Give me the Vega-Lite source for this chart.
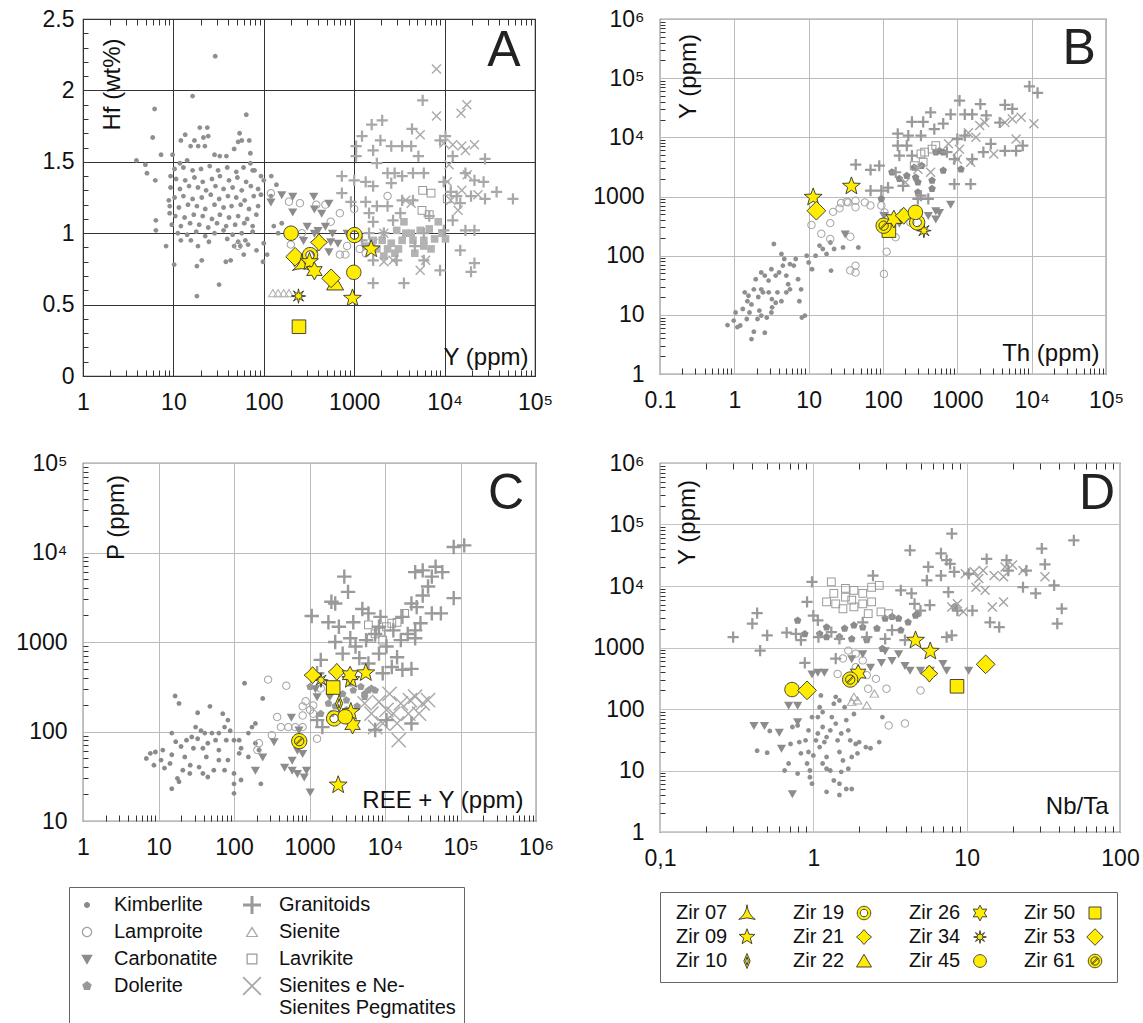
{
"$schema": "https://vega.github.io/schema/vega-lite/v6.json",
"padding": {"left": 15, "top": 7, "right": 5, "bottom": 5},
"background": "white",
"columns": 2,
"spacing": {"row": 87, "column": 124},
"bounds": "flush",
"align": "each",
"config": {
  "font": "Liberation Sans",
  "view": {"stroke": "#3a3a3a", "strokeWidth": 1.2},
  "axis": {"labelFont": "Liberation Sans", "titleFont": "Liberation Sans", "labelColor": "#111111", "titleColor": "#111111", "labelFontSize": 23, "titleFontSize": 24, "titleFontWeight": "normal", "domain": false, "ticks": false, "grid": false, "labelFlush": false, "labelOverlap": false, "labelBound": false, "tickSize": 0},
  "legend": {"labelFont": "Liberation Sans", "labelColor": "#111111", "labelFontSize": 20, "titleFont": "Liberation Sans"}
},
"datasets": {
  "groups": [{"g":"K","group":"Kimberlite"},{"g":"L","group":"Lamproite"},{"g":"C","group":"Carbonatite"},{"g":"D","group":"Dolerite"},{"g":"G","group":"Granitoids"},{"g":"S","group":"Sienite"},{"g":"V","group":"Lavrikite"},{"g":"X","group":"Sienites e Ne-Sienites Pegmatites"}],
  "gA": [
{"g":"K","x":29,"y":2.24},{"g":"K","x":16.3,"y":1.96},{"g":"K","x":6.2,"y":1.87},{"g":"K","x":5.9,"y":1.67},{"g":"K","x":64,"y":1.83},{"g":"K","x":19.6,"y":1.74},{"g":"K","x":23.7,"y":1.74},{"g":"K","x":3.9,"y":1.51},{"g":"K","x":4.9,"y":1.48},{"g":"K","x":5.1,"y":1.42},{"g":"K","x":7.3,"y":1.55},{"g":"K","x":9.8,"y":1.55},{"g":"K","x":12.1,"y":1.65},{"g":"K","x":13.5,"y":1.69},{"g":"K","x":17.1,"y":1.65},{"g":"K","x":21.5,"y":1.67},{"g":"K","x":24.3,"y":1.68},{"g":"K","x":22.3,"y":1.61},{"g":"K","x":18.8,"y":1.61},{"g":"K","x":15.5,"y":1.61},{"g":"K","x":32.6,"y":1.54},{"g":"K","x":54,"y":1.70},{"g":"K","x":57,"y":1.65},{"g":"K","x":69,"y":1.65},{"g":"K","x":52,"y":1.64},{"g":"K","x":6.3,"y":1.37},{"g":"K","x":9.3,"y":1.40},{"g":"K","x":11.8,"y":1.49},{"g":"K","x":14.2,"y":1.51},{"g":"K","x":28.5,"y":1.55},{"g":"K","x":38.6,"y":1.54},{"g":"K","x":47,"y":1.59},{"g":"K","x":71,"y":1.56},{"g":"K","x":71,"y":1.49},{"g":"K","x":93,"y":1.40},{"g":"K","x":121,"y":1.40},{"g":"K","x":79,"y":1.44},{"g":"K","x":93,"y":1.27},{"g":"K","x":120,"y":1.26},{"g":"K","x":100,"y":1.37},{"g":"K","x":8.9,"y":1.23},{"g":"K","x":9.1,"y":1.14},{"g":"K","x":6.4,"y":1.09},{"g":"K","x":6.4,"y":1.02},{"g":"K","x":8.3,"y":0.91},{"g":"K","x":10.2,"y":0.78},{"g":"K","x":12.1,"y":0.95},{"g":"K","x":18.2,"y":0.77},{"g":"K","x":20.6,"y":0.81},{"g":"K","x":18.7,"y":0.91},{"g":"K","x":32,"y":0.64},{"g":"K","x":18.2,"y":0.56},{"g":"K","x":38,"y":0.80},{"g":"K","x":43,"y":0.81},{"g":"K","x":60,"y":0.85},{"g":"K","x":83,"y":0.88},{"g":"K","x":98,"y":0.80},{"g":"K","x":109,"y":0.85},{"g":"K","x":55,"y":0.91},{"g":"K","x":47,"y":0.91},{"g":"K","x":52,"y":0.94},{"g":"K","x":67,"y":0.92},{"g":"K","x":100,"y":0.93},{"g":"K","x":158,"y":1.07},{"g":"K","x":144,"y":1.0},{"g":"K","x":138,"y":1.34},{"g":"K","x":129,"y":1.05},
{"g":"K","x":10.3,"y":1.45},{"g":"K","x":12.9,"y":1.46},{"g":"K","x":16.3,"y":1.44},{"g":"K","x":20.2,"y":1.45},{"g":"K","x":25.2,"y":1.47},{"g":"K","x":31.2,"y":1.44},{"g":"K","x":39.4,"y":1.46},{"g":"K","x":49.6,"y":1.43},{"g":"K","x":59.7,"y":1.46},{"g":"K","x":75.3,"y":1.44},
{"g":"K","x":10.7,"y":1.38},{"g":"K","x":13.5,"y":1.37},{"g":"K","x":17.1,"y":1.39},{"g":"K","x":21.1,"y":1.36},{"g":"K","x":26.7,"y":1.38},{"g":"K","x":32.7,"y":1.40},{"g":"K","x":41.2,"y":1.37},{"g":"K","x":51,"y":1.39},{"g":"K","x":63.7,"y":1.36},
{"g":"K","x":9.3,"y":1.32},{"g":"K","x":11.8,"y":1.31},{"g":"K","x":14.9,"y":1.33},{"g":"K","x":18.7,"y":1.32},{"g":"K","x":23,"y":1.30},{"g":"K","x":29.2,"y":1.33},{"g":"K","x":35.9,"y":1.31},{"g":"K","x":45.2,"y":1.32},{"g":"K","x":57,"y":1.30},{"g":"K","x":71.9,"y":1.33},{"g":"K","x":86.5,"y":1.31},
{"g":"K","x":10.3,"y":1.25},{"g":"K","x":12.9,"y":1.26},{"g":"K","x":16.3,"y":1.24},{"g":"K","x":20.6,"y":1.25},{"g":"K","x":25.9,"y":1.27},{"g":"K","x":32.1,"y":1.24},{"g":"K","x":40.1,"y":1.26},{"g":"K","x":49.6,"y":1.25},{"g":"K","x":61.4,"y":1.23},{"g":"K","x":77.4,"y":1.26},
{"g":"K","x":9.1,"y":1.19},{"g":"K","x":11.5,"y":1.18},{"g":"K","x":14.5,"y":1.20},{"g":"K","x":18.2,"y":1.19},{"g":"K","x":22.5,"y":1.17},{"g":"K","x":28.5,"y":1.20},{"g":"K","x":35.9,"y":1.18},{"g":"K","x":44,"y":1.19},{"g":"K","x":55.5,"y":1.20},{"g":"K","x":68.6,"y":1.17},{"g":"K","x":86.5,"y":1.19},
{"g":"K","x":10.5,"y":1.12},{"g":"K","x":13.3,"y":1.11},{"g":"K","x":16.8,"y":1.13},{"g":"K","x":21.1,"y":1.12},{"g":"K","x":26.7,"y":1.10},{"g":"K","x":32.7,"y":1.13},{"g":"K","x":41.2,"y":1.11},{"g":"K","x":52,"y":1.12},{"g":"K","x":65.5,"y":1.10},{"g":"K","x":82.6,"y":1.13},
{"g":"K","x":9.6,"y":1.06},{"g":"K","x":12.1,"y":1.05},{"g":"K","x":15.3,"y":1.07},{"g":"K","x":19.3,"y":1.06},{"g":"K","x":24.3,"y":1.04},{"g":"K","x":30.4,"y":1.07},{"g":"K","x":38.3,"y":1.05},{"g":"K","x":48.2,"y":1.06},{"g":"K","x":60.8,"y":1.07},{"g":"K","x":75.3,"y":1.05},
{"g":"K","x":11.2,"y":1.0},{"g":"K","x":14.2,"y":0.99},{"g":"K","x":17.9,"y":1.01},{"g":"K","x":22.5,"y":0.98},{"g":"K","x":28.5,"y":1.0},{"g":"K","x":35.9,"y":1.02},{"g":"K","x":45.2,"y":0.99},{"g":"K","x":57,"y":1.0},{"g":"K","x":75.3,"y":1.01},
{"g":"K","x":15.6,"y":0.95},{"g":"K","x":24.7,"y":0.94},{"g":"K","x":39.4,"y":0.96},{"g":"K","x":62.5,"y":0.95},
{"g":"L","x":120,"y":1.28},{"g":"L","x":190,"y":1.22},{"g":"L","x":251,"y":1.21},{"g":"L","x":381,"y":1.20},{"g":"L","x":480,"y":1.20},{"g":"L","x":694,"y":1.14},{"g":"L","x":550,"y":1.08},{"g":"L","x":1000,"y":1.17},{"g":"L","x":52,"y":0.91},{"g":"L","x":199,"y":0.92},{"g":"L","x":264,"y":1.0},{"g":"L","x":694,"y":0.85},{"g":"L","x":800,"y":0.85},{"g":"L","x":835,"y":0.91},{"g":"L","x":2340,"y":1.26},{"g":"L","x":1150,"y":0.89},{"g":"L","x":1340,"y":0.86},
{"g":"C","x":120,"y":1.22},{"g":"C","x":158,"y":1.27},{"g":"C","x":209,"y":1.26},{"g":"C","x":357,"y":1.26},{"g":"C","x":209,"y":1.15},{"g":"C","x":363,"y":1.17},{"g":"C","x":437,"y":1.14},{"g":"C","x":525,"y":1.21},{"g":"C","x":302,"y":1.05},{"g":"C","x":398,"y":1.02},{"g":"C","x":480,"y":1.05},{"g":"C","x":275,"y":0.95},{"g":"C","x":363,"y":1.0},{"g":"C","x":550,"y":0.94},{"g":"C","x":660,"y":0.93},{"g":"C","x":575,"y":1.0},{"g":"C","x":363,"y":0.86},{"g":"C","x":525,"y":0.87},{"g":"C","x":240,"y":0.81},{"g":"C","x":219,"y":0.79},{"g":"C","x":835,"y":1.0},
{"g":"S","x":126,"y":0.58},{"g":"S","x":144,"y":0.58},{"g":"S","x":166,"y":0.58},{"g":"S","x":190,"y":0.58},
{"g":"D","x":3550,"y":1.08},{"g":"D","x":2950,"y":1.02},{"g":"D","x":4270,"y":1.0},{"g":"D","x":5370,"y":1.02},{"g":"D","x":6760,"y":1.03},{"g":"D","x":8510,"y":1.08},{"g":"D","x":10230,"y":0.96},{"g":"D","x":7760,"y":0.96},{"g":"D","x":5890,"y":0.95},{"g":"D","x":4470,"y":0.95},{"g":"D","x":3390,"y":0.95},{"g":"D","x":2570,"y":0.93},{"g":"D","x":2040,"y":0.95},{"g":"D","x":1780,"y":0.89},{"g":"D","x":2340,"y":0.89},{"g":"D","x":3090,"y":0.89},{"g":"D","x":4680,"y":0.86},{"g":"D","x":7080,"y":0.89},{"g":"D","x":2820,"y":0.86},{"g":"D","x":1340,"y":0.91},{"g":"D","x":5890,"y":0.91},{"g":"D","x":3720,"y":1.0},{"g":"D","x":1620,"y":0.95},{"g":"D","x":9330,"y":1.0},{"g":"D","x":2130,"y":0.84},
{"g":"V","x":5720,"y":1.30},{"g":"V","x":7080,"y":1.28},{"g":"V","x":10700,"y":1.24},{"g":"V","x":5620,"y":1.16},{"g":"V","x":6760,"y":1.13},
{"g":"X","x":8130,"y":2.15},{"g":"X","x":17600,"y":1.90},{"g":"X","x":15200,"y":1.84},{"g":"X","x":8130,"y":1.82},{"g":"X","x":5370,"y":1.69},{"g":"X","x":9800,"y":1.63},{"g":"X","x":12300,"y":1.62},{"g":"X","x":15500,"y":1.61},{"g":"X","x":21400,"y":1.62},{"g":"X","x":17000,"y":1.58},{"g":"X","x":11200,"y":1.48},{"g":"X","x":17800,"y":1.41},{"g":"X","x":15500,"y":1.30},{"g":"X","x":10700,"y":1.36},{"g":"X","x":14100,"y":1.16},{"g":"X","x":11700,"y":1.23},{"g":"X","x":3720,"y":1.23},{"g":"X","x":4270,"y":1.21},{"g":"X","x":2130,"y":1.0},{"g":"X","x":2690,"y":0.81},{"g":"X","x":2130,"y":0.80},{"g":"X","x":5370,"y":0.74},{"g":"X","x":6170,"y":0.81},{"g":"X","x":1620,"y":0.93},{"g":"X","x":23400,"y":1.27},
{"g":"G","x":5720,"y":1.93},{"g":"G","x":1560,"y":1.76},{"g":"G","x":2040,"y":1.79},{"g":"G","x":4360,"y":1.73},{"g":"G","x":1220,"y":1.68},{"g":"G","x":1950,"y":1.65},{"g":"G","x":1050,"y":1.61},{"g":"G","x":1620,"y":1.58},{"g":"G","x":2570,"y":1.61},{"g":"G","x":3390,"y":1.61},{"g":"G","x":4270,"y":1.61},{"g":"G","x":5130,"y":1.54},{"g":"G","x":8910,"y":1.65},{"g":"G","x":10230,"y":1.68},{"g":"G","x":1050,"y":1.54},{"g":"G","x":1780,"y":1.49},{"g":"G","x":2340,"y":1.42},{"g":"G","x":2800,"y":1.42},{"g":"G","x":3390,"y":1.40},{"g":"G","x":4470,"y":1.42},{"g":"G","x":5890,"y":1.42},{"g":"G","x":730,"y":1.40},{"g":"G","x":1000,"y":1.37},{"g":"G","x":1340,"y":1.36},{"g":"G","x":1620,"y":1.33},{"g":"G","x":2570,"y":1.35},{"g":"G","x":12300,"y":1.54},{"g":"G","x":17000,"y":1.42},{"g":"G","x":21400,"y":1.37},{"g":"G","x":28000,"y":1.52},{"g":"G","x":27000,"y":1.36},{"g":"G","x":37600,"y":1.29},{"g":"G","x":57000,"y":1.24},{"g":"G","x":28000,"y":1.24},{"g":"G","x":19600,"y":1.26},{"g":"G","x":730,"y":1.28},{"g":"G","x":920,"y":1.22},{"g":"G","x":1340,"y":1.22},{"g":"G","x":1780,"y":1.19},{"g":"G","x":2340,"y":1.19},{"g":"G","x":1460,"y":1.14},{"g":"G","x":3390,"y":1.23},{"g":"G","x":4470,"y":1.23},{"g":"G","x":13600,"y":1.26},{"g":"G","x":9800,"y":1.36},{"g":"G","x":11700,"y":1.29},{"g":"G","x":14900,"y":1.21},{"g":"G","x":12300,"y":1.09},{"g":"G","x":17000,"y":1.02},{"g":"G","x":21400,"y":1.02},{"g":"G","x":9800,"y":1.02},{"g":"G","x":1620,"y":1.08},{"g":"G","x":1460,"y":1.0},{"g":"G","x":2130,"y":1.0},{"g":"G","x":1220,"y":0.95},{"g":"G","x":14900,"y":0.88},{"g":"G","x":21400,"y":0.79},{"g":"G","x":19600,"y":0.73},{"g":"G","x":8910,"y":0.74},{"g":"G","x":2950,"y":0.81},{"g":"G","x":1620,"y":0.81},{"g":"G","x":1620,"y":0.65},{"g":"G","x":3550,"y":0.65},{"g":"G","x":5890,"y":0.81},{"g":"G","x":4680,"y":0.91},{"g":"G","x":5890,"y":1.0},{"g":"G","x":6760,"y":1.12},{"g":"G","x":2690,"y":1.09},{"g":"G","x":3240,"y":1.14}
  ],
  "gB": [
{"g":"K","x":0.81,"y":6.7},{"g":"K","x":1.04,"y":11},{"g":"K","x":1.1,"y":6.2},{"g":"K","x":0.98,"y":8},{"g":"K","x":1.3,"y":12.6},{"g":"K","x":1.5,"y":17},{"g":"K","x":1.55,"y":21},{"g":"K","x":1.7,"y":15},{"g":"K","x":1.83,"y":27},{"g":"K","x":1.7,"y":3.9},{"g":"K","x":1.83,"y":5.2},{"g":"K","x":2.05,"y":8.5},{"g":"K","x":2.17,"y":11.8},{"g":"K","x":1.94,"y":40},{"g":"K","x":2.43,"y":24},{"g":"K","x":2.57,"y":5},{"g":"K","x":2.73,"y":9},{"g":"K","x":2.89,"y":38},{"g":"K","x":3.15,"y":59},{"g":"K","x":3.22,"y":13.4},{"g":"K","x":3.15,"y":11},{"g":"K","x":3.6,"y":46},{"g":"K","x":3.8,"y":24},{"g":"K","x":4.0,"y":52},{"g":"K","x":4.3,"y":107},{"g":"K","x":4.5,"y":68},{"g":"K","x":5.0,"y":46},{"g":"K","x":5.6,"y":72},{"g":"K","x":5.6,"y":27},{"g":"K","x":6.3,"y":68},{"g":"K","x":7.2,"y":40},{"g":"K","x":6.7,"y":88},{"g":"K","x":7.5,"y":17},{"g":"K","x":7.9,"y":27},{"g":"K","x":8.1,"y":9},{"g":"K","x":8.9,"y":9.7},{"g":"K","x":10,"y":77},{"g":"K","x":9.4,"y":100},{"g":"K","x":11.1,"y":59},{"g":"K","x":12.4,"y":100},{"g":"K","x":14,"y":148},{"g":"K","x":15.5,"y":130},{"g":"K","x":17.4,"y":107},{"g":"K","x":19.6,"y":167},{"g":"K","x":22,"y":130},{"g":"K","x":20,"y":56},{"g":"K","x":29,"y":138},{"g":"K","x":46.6,"y":138},{"g":"K","x":3.4,"y":158},{"g":"K","x":2.3,"y":9.7},{"g":"K","x":1.47,"y":8.5},{"g":"K","x":1.2,"y":6.6},{"g":"K","x":4.3,"y":17},{"g":"K","x":5.0,"y":24},{"g":"K","x":5.3,"y":33},{"g":"K","x":2.3,"y":27},{"g":"K","x":2.57,"y":46},{"g":"K","x":2.3,"y":52},{"g":"K","x":2.9,"y":24},{"g":"K","x":3.6,"y":16},{"g":"K","x":1.6,"y":11},{"g":"K","x":1.38,"y":24},{"g":"K","x":3.2,"y":18.5},{"g":"K","x":2.1,"y":20},{"g":"K","x":4.7,"y":88},
{"g":"L","x":10.9,"y":330},{"g":"L","x":19.5,"y":355},{"g":"L","x":21.3,"y":550},{"g":"L","x":26,"y":630},{"g":"L","x":27.3,"y":776},{"g":"L","x":34,"y":795},{"g":"L","x":42.7,"y":660},{"g":"L","x":57,"y":795},{"g":"L","x":67.7,"y":705},{"g":"L","x":42.7,"y":851},{"g":"L","x":32.4,"y":813},{"g":"L","x":14.8,"y":234},{"g":"L","x":19.5,"y":191},{"g":"L","x":36.3,"y":209},{"g":"L","x":42.7,"y":68},{"g":"L","x":36.3,"y":56},{"g":"L","x":42.7,"y":52},{"g":"L","x":103,"y":49},{"g":"L","x":112,"y":117},{"g":"L","x":105,"y":537},{"g":"L","x":95,"y":705},{"g":"L","x":148,"y":204},{"g":"L","x":117,"y":245},{"g":"L","x":186,"y":537},{"g":"L","x":234,"y":363},
{"g":"C","x":31,"y":234},{"g":"C","x":103,"y":477},{"g":"C","x":166,"y":355},{"g":"C","x":295,"y":477},{"g":"C","x":407,"y":477},{"g":"C","x":513,"y":575},{"g":"C","x":575,"y":537},{"g":"C","x":813,"y":741},{"g":"C","x":513,"y":417},
{"g":"D","x":95,"y":912},{"g":"D","x":132,"y":2570},{"g":"D","x":209,"y":2240},{"g":"D","x":275,"y":2090},{"g":"D","x":295,"y":1740},{"g":"D","x":457,"y":1860},{"g":"D","x":457,"y":1350},{"g":"D","x":646,"y":2750},{"g":"D","x":1120,"y":2880},{"g":"D","x":263,"y":3090},{"g":"D","x":331,"y":3310},{"g":"D","x":575,"y":5890},{"g":"D","x":646,"y":5620},{"g":"D","x":513,"y":5620},{"g":"D","x":166,"y":1995},{"g":"D","x":295,"y":1175},
{"g":"V","x":263,"y":3310},{"g":"V","x":347,"y":3800},{"g":"V","x":457,"y":6310},{"g":"V","x":363,"y":5620},{"g":"V","x":513,"y":7240},{"g":"V","x":324,"y":5250},
{"g":"X","x":760,"y":7760},{"g":"X","x":1070,"y":6310},{"g":"X","x":1410,"y":12000},{"g":"X","x":2000,"y":15800},{"g":"X","x":2340,"y":17800},{"g":"X","x":1780,"y":10000},{"g":"X","x":1510,"y":3800},{"g":"X","x":3090,"y":5250},{"g":"X","x":4370,"y":17800},{"g":"X","x":5500,"y":20400},{"g":"X","x":7240,"y":21900},{"g":"X","x":10700,"y":17000},{"g":"X","x":6170,"y":9330},{"g":"X","x":1000,"y":4270},{"g":"X","x":437,"y":2570},{"g":"X","x":295,"y":2880},{"g":"X","x":200,"y":1740},
{"g":"G","x":43,"y":3470},{"g":"G","x":68,"y":2820},{"g":"G","x":89,"y":3310},{"g":"G","x":68,"y":1260},{"g":"G","x":95,"y":1260},{"g":"G","x":117,"y":1410},{"g":"G","x":158,"y":11500},{"g":"G","x":219,"y":10700},{"g":"G","x":245,"y":18200},{"g":"G","x":347,"y":18200},{"g":"G","x":437,"y":26300},{"g":"G","x":324,"y":10700},{"g":"G","x":490,"y":13800},{"g":"G","x":646,"y":17000},{"g":"G","x":813,"y":24500},{"g":"G","x":1070,"y":41700},{"g":"G","x":1260,"y":24500},{"g":"G","x":1585,"y":24500},{"g":"G","x":2040,"y":36300},{"g":"G","x":2450,"y":23400},{"g":"G","x":4370,"y":35500},{"g":"G","x":5500,"y":30200},{"g":"G","x":9330,"y":72400},{"g":"G","x":12000,"y":56200},{"g":"G","x":3720,"y":17800},{"g":"G","x":7590,"y":7240},{"g":"G","x":6170,"y":5890},{"g":"G","x":4370,"y":5890},{"g":"G","x":2820,"y":7760},{"g":"G","x":2240,"y":5620},{"g":"G","x":1585,"y":4270},{"g":"G","x":912,"y":4270},{"g":"G","x":724,"y":5620},{"g":"G","x":912,"y":1620},{"g":"G","x":1510,"y":1620},{"g":"G","x":1000,"y":9330},{"g":"G","x":1260,"y":10700},{"g":"G","x":209,"y":7240},{"g":"G","x":245,"y":4900},{"g":"G","x":166,"y":4900},{"g":"G","x":148,"y":2570},{"g":"G","x":186,"y":1510},{"g":"G","x":295,"y":912},{"g":"G","x":407,"y":912},{"g":"G","x":324,"y":1030},{"g":"G","x":158,"y":7240}
  ],
  "gC": [
{"g":"K","x":6.9,"y":50},{"g":"K","x":7.8,"y":57},{"g":"K","x":9.1,"y":59},{"g":"K","x":11.4,"y":62},{"g":"K","x":8.7,"y":42},{"g":"K","x":10.8,"y":48},{"g":"K","x":15,"y":55},{"g":"K","x":16.6,"y":250},{"g":"K","x":18.7,"y":206},{"g":"K","x":15,"y":96},{"g":"K","x":16.9,"y":77},{"g":"K","x":19.9,"y":68},{"g":"K","x":22.3,"y":52},{"g":"K","x":26.3,"y":42},{"g":"K","x":15,"y":23},{"g":"K","x":17.8,"y":30},{"g":"K","x":18.7,"y":27.5},{"g":"K","x":27.6,"y":87},{"g":"K","x":31,"y":112},{"g":"K","x":33,"y":162},{"g":"K","x":36.5,"y":102},{"g":"K","x":38.7,"y":65},{"g":"K","x":43,"y":52},{"g":"K","x":48,"y":191},{"g":"K","x":51,"y":96},{"g":"K","x":57,"y":80},{"g":"K","x":63,"y":62},{"g":"K","x":71,"y":158},{"g":"K","x":75,"y":112},{"g":"K","x":83,"y":134},{"g":"K","x":89,"y":102},{"g":"K","x":100,"y":80},{"g":"K","x":100,"y":34},{"g":"K","x":100,"y":26},{"g":"K","x":100,"y":20.4},{"g":"K","x":117,"y":80},{"g":"K","x":124,"y":28.8},{"g":"K","x":138,"y":347},{"g":"K","x":155,"y":96},{"g":"K","x":173,"y":112},{"g":"K","x":192,"y":74},{"g":"K","x":214,"y":62},{"g":"K","x":227,"y":26},{"g":"K","x":240,"y":234},{"g":"K","x":26,"y":34},{"g":"K","x":29,"y":65},{"g":"K","x":34.5,"y":40},{"g":"K","x":38.7,"y":34},{"g":"K","x":45,"y":31},{"g":"K","x":54,"y":37},{"g":"K","x":63,"y":48},{"g":"K","x":75,"y":37},{"g":"K","x":83,"y":48},{"g":"K","x":117,"y":57},{"g":"K","x":12,"y":39},{"g":"K","x":14.2,"y":44},{"g":"K","x":21,"y":37},{"g":"K","x":23.5,"y":80},{"g":"K","x":33,"y":83},{"g":"K","x":41,"y":96},{"g":"K","x":79,"y":80},{"g":"K","x":124,"y":65},{"g":"K","x":155,"y":52},{"g":"K","x":192,"y":123},{"g":"K","x":63,"y":96},{"g":"K","x":45,"y":74},
{"g":"L","x":283,"y":380},{"g":"L","x":493,"y":324},{"g":"L","x":373,"y":145},{"g":"L","x":317,"y":91},{"g":"L","x":214,"y":74},{"g":"L","x":204,"y":62},{"g":"L","x":418,"y":112},{"g":"L","x":524,"y":112},{"g":"L","x":648,"y":112},{"g":"L","x":811,"y":112},{"g":"L","x":890,"y":218},{"g":"L","x":811,"y":191},{"g":"L","x":1020,"y":174},{"g":"L","x":1120,"y":196},{"g":"L","x":1120,"y":158},{"g":"L","x":1260,"y":83},{"g":"L","x":811,"y":151},{"g":"L","x":1410,"y":302},{"g":"L","x":1860,"y":288},
{"g":"C","x":339,"y":77},{"g":"C","x":240,"y":52},{"g":"C","x":192,"y":37},{"g":"C","x":575,"y":145},{"g":"C","x":725,"y":104},{"g":"C","x":692,"y":62},{"g":"C","x":589,"y":48},{"g":"C","x":811,"y":57},{"g":"C","x":468,"y":40},{"g":"C","x":589,"y":37},{"g":"C","x":912,"y":37},{"g":"C","x":1020,"y":21.2},{"g":"C","x":692,"y":34},{"g":"C","x":851,"y":31},{"g":"C","x":1260,"y":245},{"g":"C","x":1200,"y":302},{"g":"C","x":1860,"y":245},
{"g":"D","x":1020,"y":316},{"g":"D","x":1410,"y":158},{"g":"D","x":1780,"y":206},{"g":"D","x":2190,"y":191},{"g":"D","x":3090,"y":224},{"g":"D","x":3800,"y":288},{"g":"D","x":4790,"y":316},{"g":"D","x":5370,"y":263},{"g":"D","x":6030,"y":288},{"g":"D","x":6610,"y":302},{"g":"D","x":7410,"y":288},{"g":"D","x":3470,"y":347},{"g":"D","x":2750,"y":263},{"g":"D","x":5370,"y":245},{"g":"D","x":4270,"y":191},{"g":"D","x":1950,"y":158},{"g":"D","x":3090,"y":174},{"g":"D","x":3470,"y":372},
{"g":"X","x":8320,"y":214},{"g":"X","x":10470,"y":174},{"g":"X","x":12900,"y":158},{"g":"X","x":16200,"y":206},{"g":"X","x":21400,"y":224},{"g":"X","x":25100,"y":245},{"g":"X","x":31600,"y":206},{"g":"X","x":37200,"y":224},{"g":"X","x":28200,"y":158},{"g":"X","x":20400,"y":158},{"g":"X","x":14450,"y":123},{"g":"X","x":15200,"y":80},{"g":"X","x":9330,"y":123},{"g":"X","x":7410,"y":112},{"g":"X","x":6610,"y":158},{"g":"X","x":5370,"y":206},{"g":"X","x":11500,"y":263},
{"g":"G","x":2890,"y":5370},{"g":"G","x":3240,"y":3630},{"g":"G","x":1950,"y":2820},{"g":"G","x":2190,"y":2690},{"g":"G","x":1070,"y":1950},{"g":"G","x":1780,"y":1660},{"g":"G","x":2450,"y":1480},{"g":"G","x":3800,"y":1660},{"g":"G","x":5010,"y":2340},{"g":"G","x":6030,"y":2090},{"g":"G","x":8710,"y":1910},{"g":"G","x":2190,"y":1000},{"g":"G","x":3470,"y":1100},{"g":"G","x":2750,"y":741},{"g":"G","x":4070,"y":891},{"g":"G","x":5620,"y":1050},{"g":"G","x":4570,"y":661},{"g":"G","x":6030,"y":575},{"g":"G","x":8320,"y":741},{"g":"G","x":10470,"y":891},{"g":"G","x":14450,"y":676},{"g":"G","x":12300,"y":525},{"g":"G","x":17000,"y":490},{"g":"G","x":22400,"y":501},{"g":"G","x":9330,"y":447},{"g":"G","x":16200,"y":1050},{"g":"G","x":20000,"y":1230},{"g":"G","x":25100,"y":1100},{"g":"G","x":17000,"y":1910},{"g":"G","x":22400,"y":2690},{"g":"G","x":31600,"y":3310},{"g":"G","x":37200,"y":4170},{"g":"G","x":41700,"y":5370},{"g":"G","x":25100,"y":6030},{"g":"G","x":31600,"y":6310},{"g":"G","x":46800,"y":6920},{"g":"G","x":57500,"y":6030},{"g":"G","x":41700,"y":2090},{"g":"G","x":55000,"y":2090},{"g":"G","x":81300,"y":3090},{"g":"G","x":81300,"y":11500},{"g":"G","x":112000,"y":12000},{"g":"G","x":26300,"y":2450},{"g":"G","x":29500,"y":1620},{"g":"G","x":25100,"y":1350},{"g":"G","x":1260,"y":447},{"g":"G","x":1410,"y":631},{"g":"G","x":1480,"y":112},{"g":"G","x":1260,"y":134},{"g":"G","x":7410,"y":104},{"g":"G","x":10470,"y":134},{"g":"G","x":22400,"y":123},{"g":"G","x":7410,"y":1230},{"g":"G","x":12900,"y":1350},{"g":"G","x":8320,"y":1480},
{"g":"V","x":6030,"y":1550},{"g":"V","x":7410,"y":1230},{"g":"V","x":8710,"y":1290},{"g":"V","x":10470,"y":1480},{"g":"V","x":12300,"y":1620},{"g":"V","x":14450,"y":1660},{"g":"V","x":18200,"y":2090},{"g":"V","x":9330,"y":1050},{"g":"V","x":6610,"y":1100}
  ],
  "gD": [
{"g":"K","x":0.43,"y":21},{"g":"K","x":0.50,"y":19.5},{"g":"K","x":0.52,"y":44},{"g":"K","x":0.65,"y":10},{"g":"K","x":0.69,"y":13},{"g":"K","x":0.71,"y":27},{"g":"K","x":0.73,"y":51},{"g":"K","x":0.79,"y":54},{"g":"K","x":0.81,"y":29},{"g":"K","x":0.83,"y":19},{"g":"K","x":0.91,"y":13},{"g":"K","x":0.93,"y":20},{"g":"K","x":0.95,"y":10},{"g":"K","x":0.95,"y":7.8},{"g":"K","x":0.98,"y":6.1},{"g":"K","x":1.0,"y":17.6},{"g":"K","x":1.04,"y":31},{"g":"K","x":1.07,"y":40},{"g":"K","x":0.98,"y":74},{"g":"K","x":1.07,"y":74},{"g":"K","x":1.1,"y":107},{"g":"K","x":1.12,"y":166},{"g":"K","x":1.15,"y":89},{"g":"K","x":1.15,"y":51},{"g":"K","x":1.18,"y":29},{"g":"K","x":1.22,"y":16.6},{"g":"K","x":1.22,"y":10.7},{"g":"K","x":1.29,"y":45},{"g":"K","x":1.32,"y":74},{"g":"K","x":1.36,"y":122},{"g":"K","x":1.40,"y":58},{"g":"K","x":1.44,"y":31},{"g":"K","x":1.48,"y":20},{"g":"K","x":1.52,"y":40},{"g":"K","x":1.56,"y":14.6},{"g":"K","x":1.60,"y":107},{"g":"K","x":1.64,"y":66},{"g":"K","x":1.69,"y":45},{"g":"K","x":1.36,"y":6.9},{"g":"K","x":1.48,"y":6.1},{"g":"K","x":1.22,"y":4.5},{"g":"K","x":1.48,"y":4.0},{"g":"K","x":1.64,"y":5.0},{"g":"K","x":1.78,"y":5.0},{"g":"K","x":1.78,"y":16.6},{"g":"K","x":1.89,"y":27},{"g":"K","x":1.94,"y":19},{"g":"K","x":1.99,"y":29},{"g":"K","x":2.2,"y":24},{"g":"K","x":2.36,"y":23},{"g":"K","x":1.74,"y":31},{"g":"K","x":1.48,"y":138},{"g":"K","x":1.40,"y":158},{"g":"K","x":1.22,"y":35},{"g":"K","x":1.1,"y":24},{"g":"K","x":1.29,"y":10},{"g":"K","x":1.15,"y":13},{"g":"K","x":1.52,"y":9.5},{"g":"K","x":1.69,"y":10.7},{"g":"K","x":2.69,"y":29},{"g":"K","x":2.82,"y":74},{"g":"K","x":0.93,"y":45},{"g":"K","x":0.89,"y":31},{"g":"K","x":0.79,"y":8.9},{"g":"K","x":1.84,"y":83},
{"g":"L","x":1.44,"y":372},{"g":"L","x":1.56,"y":661},{"g":"L","x":1.69,"y":891},{"g":"L","x":1.89,"y":794},{"g":"L","x":2.23,"y":355},{"g":"L","x":2.56,"y":309},{"g":"L","x":3.0,"y":214},{"g":"L","x":3.1,"y":54},{"g":"L","x":3.96,"y":58},{"g":"L","x":5.0,"y":200},{"g":"L","x":2.28,"y":214},{"g":"L","x":1.89,"y":479},{"g":"L","x":2.1,"y":617},
{"g":"C","x":0.41,"y":54},{"g":"C","x":0.48,"y":54},{"g":"C","x":0.60,"y":42},{"g":"C","x":0.62,"y":23},{"g":"C","x":0.69,"y":115},{"g":"C","x":0.79,"y":115},{"g":"C","x":0.79,"y":62},{"g":"C","x":0.73,"y":4.2},{"g":"C","x":0.98,"y":372},{"g":"C","x":1.07,"y":398},{"g":"C","x":1.18,"y":398},{"g":"C","x":1.78,"y":661},{"g":"C","x":2.1,"y":794},{"g":"C","x":2.36,"y":479},{"g":"C","x":2.78,"y":575},{"g":"C","x":3.26,"y":617},{"g":"C","x":3.96,"y":513},{"g":"C","x":4.27,"y":427},{"g":"C","x":5.0,"y":427},{"g":"C","x":7.0,"y":550},{"g":"C","x":7.4,"y":427},{"g":"C","x":10.3,"y":427},{"g":"C","x":13.2,"y":457},{"g":"C","x":5.8,"y":427},{"g":"C","x":3.6,"y":794},{"g":"C","x":2.94,"y":891},
{"g":"D","x":0.79,"y":2750},{"g":"D","x":1.1,"y":1660},{"g":"D","x":1.22,"y":1480},{"g":"D","x":1.6,"y":2040},{"g":"D","x":1.84,"y":2290},{"g":"D","x":2.1,"y":2140},{"g":"D","x":2.6,"y":2040},{"g":"D","x":2.94,"y":2950},{"g":"D","x":3.26,"y":3160},{"g":"D","x":3.6,"y":2950},{"g":"D","x":4.15,"y":2570},{"g":"D","x":4.64,"y":3310},{"g":"D","x":4.8,"y":3550},{"g":"D","x":2.82,"y":955},{"g":"D","x":3.72,"y":1910},{"g":"D","x":2.23,"y":1320},{"g":"D","x":1.78,"y":1380},{"g":"D","x":1.48,"y":1480},{"g":"D","x":1.22,"y":2140},{"g":"D","x":0.88,"y":1660},{"g":"D","x":8.3,"y":4570},
{"g":"S","x":1.84,"y":158},{"g":"S","x":1.94,"y":138},{"g":"S","x":2.23,"y":115},{"g":"S","x":2.5,"y":178},{"g":"S","x":1.78,"y":131},
{"g":"V","x":1.31,"y":11700},{"g":"V","x":1.62,"y":9120},{"g":"V","x":1.84,"y":8510},{"g":"V","x":1.36,"y":7590},{"g":"V","x":1.22,"y":5500},{"g":"V","x":1.40,"y":5130},{"g":"V","x":1.62,"y":6610},{"g":"V","x":1.78,"y":5890},{"g":"V","x":1.84,"y":4570},{"g":"V","x":2.1,"y":7590},{"g":"V","x":2.4,"y":9550},{"g":"V","x":2.69,"y":10200},{"g":"V","x":2.1,"y":5130},{"g":"V","x":2.4,"y":5500},{"g":"V","x":2.76,"y":3800},{"g":"V","x":2.28,"y":3550},{"g":"V","x":3.09,"y":3550},{"g":"V","x":1.56,"y":4270},
{"g":"X","x":8.0,"y":4570},{"g":"X","x":9.5,"y":3800},{"g":"X","x":9.8,"y":15800},{"g":"X","x":11.2,"y":17000},{"g":"X","x":12.0,"y":13200},{"g":"X","x":11.5,"y":9550},{"g":"X","x":12.8,"y":17800},{"g":"X","x":13.2,"y":8510},{"g":"X","x":15.1,"y":14800},{"g":"X","x":17.8,"y":20400},{"g":"X","x":17.4,"y":14100},{"g":"X","x":19.9,"y":21900},{"g":"X","x":23.3,"y":17800},{"g":"X","x":32.4,"y":14100},{"g":"X","x":17.4,"y":5500},{"g":"X","x":14.7,"y":4570},{"g":"X","x":8.7,"y":5130},
{"g":"G","x":0.30,"y":1480},{"g":"G","x":0.40,"y":2450},{"g":"G","x":0.43,"y":3630},{"g":"G","x":0.45,"y":891},{"g":"G","x":0.50,"y":1580},{"g":"G","x":0.67,"y":1740},{"g":"G","x":0.77,"y":1660},{"g":"G","x":0.83,"y":1320},{"g":"G","x":0.88,"y":562},{"g":"G","x":0.91,"y":5500},{"g":"G","x":0.98,"y":11700},{"g":"G","x":1.0,"y":3310},{"g":"G","x":1.07,"y":2750},{"g":"G","x":1.08,"y":1480},{"g":"G","x":1.31,"y":1780},{"g":"G","x":1.40,"y":661},{"g":"G","x":1.48,"y":1380},{"g":"G","x":2.1,"y":2570},{"g":"G","x":2.23,"y":1480},{"g":"G","x":2.45,"y":14800},{"g":"G","x":2.94,"y":1380},{"g":"G","x":3.26,"y":1910},{"g":"G","x":3.72,"y":8510},{"g":"G","x":3.96,"y":1320},{"g":"G","x":4.27,"y":38000},{"g":"G","x":4.37,"y":7590},{"g":"G","x":4.57,"y":5130},{"g":"G","x":5.0,"y":3980},{"g":"G","x":5.62,"y":20400},{"g":"G","x":5.75,"y":4900},{"g":"G","x":5.5,"y":12300},{"g":"G","x":6.8,"y":33900},{"g":"G","x":7.4,"y":26300},{"g":"G","x":7.8,"y":22900},{"g":"G","x":8.0,"y":70800},{"g":"G","x":6.8,"y":14800},{"g":"G","x":8.3,"y":17000},{"g":"G","x":7.6,"y":7940},{"g":"G","x":8.0,"y":1580},{"g":"G","x":7.4,"y":1480},{"g":"G","x":10.3,"y":15800},{"g":"G","x":10.9,"y":3980},{"g":"G","x":13.5,"y":27500},{"g":"G","x":14.2,"y":2570},{"g":"G","x":16.3,"y":2140},{"g":"G","x":18.7,"y":17800},{"g":"G","x":18.2,"y":26300},{"g":"G","x":23.3,"y":9550},{"g":"G","x":28.2,"y":7590},{"g":"G","x":30.9,"y":40700},{"g":"G","x":32.4,"y":22400},{"g":"G","x":37.2,"y":10200},{"g":"G","x":41.7,"y":4270},{"g":"G","x":39,"y":2450},{"g":"G","x":50,"y":55000},{"g":"G","x":24.5,"y":17800},{"g":"G","x":8.7,"y":3980}
  ],
  "sA": [
{"sample":"Zir 45","x":200,"y":1.0},{"sample":"Zir 45","x":990,"y":0.726},{"sample":"Zir 19","x":1007,"y":0.987},{"sample":"Zir 21","x":408,"y":0.936},{"sample":"Zir 53","x":222,"y":0.835},{"sample":"Zir 07","x":263,"y":0.79},{"sample":"Zir 19","x":325,"y":0.847},{"sample":"Zir 09","x":320,"y":0.80},{"sample":"Zir 26","x":363,"y":0.735},{"sample":"Zir 22","x":615,"y":0.65},{"sample":"Zir 53","x":555,"y":0.684},{"sample":"Zir 34","x":242,"y":0.56},{"sample":"Zir 50","x":245,"y":0.345},{"sample":"Zir 09","x":957,"y":0.544},{"sample":"Zir 09","x":1540,"y":0.889}
  ],
  "sB": [
{"sample":"Zir 09","x":11.5,"y":970},{"sample":"Zir 53","x":12.7,"y":575},{"sample":"Zir 09","x":37.6,"y":1490},{"sample":"Zir 50","x":120,"y":265},{"sample":"Zir 61","x":102,"y":321},{"sample":"Zir 34","x":355,"y":265},{"sample":"Zir 19","x":288,"y":365},{"sample":"Zir 26","x":140,"y":415},{"sample":"Zir 21","x":190,"y":473},{"sample":"Zir 45","x":273,"y":540}
  ],
  "sC": [
{"sample":"Zir 61","x":731,"y":78},{"sample":"Zir 09","x":2400,"y":25.2},{"sample":"Zir 10","x":2470,"y":206},{"sample":"Zir 19","x":2120,"y":140},{"sample":"Zir 26","x":3720,"y":118},{"sample":"Zir 09","x":3530,"y":166},{"sample":"Zir 45","x":2970,"y":146},{"sample":"Zir 34","x":1420,"y":375},{"sample":"Zir 21","x":1100,"y":426},{"sample":"Zir 21","x":2300,"y":464},{"sample":"Zir 09","x":3530,"y":380},{"sample":"Zir 26","x":3450,"y":426},{"sample":"Zir 09","x":5570,"y":452},{"sample":"Zir 50","x":2060,"y":310}
  ],
  "sD": [
{"sample":"Zir 45","x":0.726,"y":207},{"sample":"Zir 53","x":0.91,"y":201},{"sample":"Zir 26","x":1.96,"y":377},{"sample":"Zir 61","x":1.74,"y":301},{"sample":"Zir 21","x":5.71,"y":377},{"sample":"Zir 50","x":8.65,"y":234},{"sample":"Zir 09","x":5.79,"y":867},{"sample":"Zir 09","x":4.64,"y":1310},{"sample":"Zir 53","x":13.3,"y":533}
  ]
},
"concat": [
{
  "width": 452, "height": 357,
  "resolve": {"scale": {"shape": "independent", "color": "independent"}, "axis": {"x": "independent", "y": "independent"}},
  "layer": [
    {
      "data": {"name": "gA"},
      "transform": [{"lookup": "g", "from": {"data": {"name": "groups"}, "key": "g", "fields": ["group"]}}],
      "mark": {"type": "point", "filled": true, "size": 64, "strokeWidth": 0, "opacity": 1},
      "encoding": {
        "x": {"field": "x", "type": "quantitative", "scale": {"type": "log", "domain": [1, 100000], "nice": false},
              "axis": {"orient": "bottom", "values": [1,10,100,1000,10000,100000], "labelExpr": "datum.value >= 10000 ? '10' + ['','','','','⁴','⁵','⁶'][round(log(datum.value)/LN10)] : format(datum.value, '')", "grid": true, "gridColor": "#333333", "labelPadding": 15, "title": "Y (ppm)", "titleX": 445, "titleY": -19, "titleAlign": "right", "titleBaseline": "middle", "titleAngle": 0}},
        "y": {"field": "y", "type": "quantitative", "scale": {"type": "linear", "domain": [0, 2.5], "nice": false, "zero": false},
              "axis": {"orient": "left", "values": [0,0.5,1,1.5,2,2.5], "labelExpr": "format(datum.value, '')", "grid": true, "gridColor": "#333333", "labelPadding": 9, "title": "Hf (wt%)", "titleX": 29, "titleY": 65, "titleAngle": 270, "titleAlign": "center", "titleBaseline": "middle"}},
        "shape": {"field": "group", "type": "nominal", "legend": null, "scale": {"domain": ["Kimberlite","Granitoids","Lamproite","Sienite","Carbonatite","Lavrikite","Dolerite","Sienites e Ne-Sienites Pegmatites"], "range": ["M-0.6,0A0.6,0.6 0 1,0 0.6,0A0.6,0.6 0 1,0 -0.6,0Z","M-0.28,-1.4H0.28V-0.28H1.4V0.28H0.28V1.4H-0.28V0.28H-1.4V-0.28H-0.28Z","M-1.05,0A1.05,1.05 0 1,0 1.05,0A1.05,1.05 0 1,0 -1.05,0ZM-0.8,0A0.8,0.8 0 1,1 0.8,0A0.8,0.8 0 1,1 -0.8,0Z","M0,-1.15L1.3,1L-1.3,1ZM0,-0.62L-0.88,0.78L0.88,0.78Z","M-1.15,-0.85L1.15,-0.85L0,1.15Z","M-1.1,-1.1H1.1V1.1H-1.1ZM-0.85,-0.85V0.85H0.85V-0.85Z","M-0.95,-0.95H0.95V0.95H-0.95Z","M-1.25,-1L-1,-1.25L1.25,1L1,1.25ZM1.25,-1L-1,1.25L-1.25,1L1,-1.25Z"]}},
        "color": {"field": "group", "type": "nominal", "legend": null, "scale": {"domain": ["Kimberlite","Granitoids","Lamproite","Sienite","Carbonatite","Lavrikite","Dolerite","Sienites e Ne-Sienites Pegmatites"], "range": ["#8f8f8f","#a8a8a8","#a3a3a3","#b3b3b3","#8c8c8c","#999999","#b3b3b3","#aaaaaa"]}}
      }
    },
    {
      "data": {"name": "sA"},
      "mark": {"type": "point", "filled": true, "size": 289, "fill": "#ffec00", "stroke": "#333333", "strokeWidth": 0.9, "opacity": 1},
      "encoding": {
        "x": {"field": "x", "type": "quantitative", "scale": {"type": "log", "domain": [1, 100000], "nice": false},
              "axis": {"orient": "bottom", "values": [2,3,4,5,6,7,8,9,20,30,40,50,60,70,80,90,200,300,400,500,600,700,800,900,2000,3000,4000,5000,6000,7000,8000,9000,20000,30000,40000,50000,60000,70000,80000,90000], "labels": false, "ticks": true, "tickSize": -6, "tickColor": "#333333", "title": null}},
        "y": {"field": "y", "type": "quantitative", "scale": {"type": "linear", "domain": [0, 2.5], "nice": false, "zero": false},
              "axis": {"orient": "left", "values": [0.1,0.2,0.3,0.4,0.6,0.7,0.8,0.9,1.1,1.2,1.3,1.4,1.6,1.7,1.8,1.9,2.1,2.2,2.3,2.4], "labels": false, "ticks": true, "tickSize": -5, "tickColor": "#333333", "title": null}},
        "shape": {"field": "sample", "type": "nominal", "legend": null, "scale": {"domain": ["Zir 07","Zir 09","Zir 10","Zir 19","Zir 21","Zir 22","Zir 26","Zir 34","Zir 45","Zir 50","Zir 53","Zir 61"], "range": ["M0,-1.1Q0.15,0.25 1.1,0.85Q0,0.45 -1.1,0.85Q-0.15,0.25 0,-1.1Z","M0,-1.1L0.27,-0.37L1.05,-0.34L0.44,0.14L0.65,0.89L0,0.46L-0.65,0.89L-0.44,0.14L-1.05,-0.34L-0.27,-0.37Z","M0,-1L0.42,0L0,1L-0.42,0ZM0,-0.55L-0.17,0L0,0.55L0.17,0Z","M-0.9,0A0.9,0.9 0 1,0 0.9,0A0.9,0.9 0 1,0 -0.9,0ZM-0.5,0A0.5,0.5 0 1,1 0.5,0A0.5,0.5 0 1,1 -0.5,0Z","M0,-1Q0.42,-0.42 1,0Q0.42,0.42 0,1Q-0.42,0.42 -1,0Q-0.42,-0.42 0,-1Z","M0,-0.9L1,0.8L-1,0.8Z","M0,-1.05L0.29,-0.5L0.91,-0.525L0.58,0L0.91,0.525L0.29,0.5L0,1.05L-0.29,0.5L-0.91,0.525L-0.58,0L-0.91,-0.525L-0.29,-0.5Z","M0,-0.85L0.115,-0.28L0.6,-0.6L0.28,-0.115L0.85,0L0.28,0.115L0.6,0.6L0.115,0.28L0,0.85L-0.115,0.28L-0.6,0.6L-0.28,0.115L-0.85,0L-0.28,-0.115L-0.6,-0.6L-0.115,-0.28Z","M-0.85,0A0.85,0.85 0 1,0 0.85,0A0.85,0.85 0 1,0 -0.85,0Z","M-0.8,-0.8H0.8V0.8H-0.8Z","M0,-1.1L1.1,0L0,1.1L-1.1,0Z","M-0.9,0A0.9,0.9 0 1,0 0.9,0A0.9,0.9 0 1,0 -0.9,0ZM-0.55,0A0.55,0.55 0 1,0 0.55,0A0.55,0.55 0 1,0 -0.55,0ZM-0.32,0.42L0.42,-0.32M-0.42,0.32L0.32,-0.42"]}}
      }
    },
    {
      "data": {"values": [{}]},
      "mark": {"type": "text", "text": "A", "fontSize": 50, "font": "Liberation Sans", "color": "#222222", "align": "center", "baseline": "middle"},
      "encoding": {
        "x": {"datum": 45400, "type": "quantitative", "scale": {"type": "log", "domain": [1, 100000], "nice": false},
              "axis": {"orient": "top", "values": [2,3,4,5,6,7,8,9,20,30,40,50,60,70,80,90,200,300,400,500,600,700,800,900,2000,3000,4000,5000,6000,7000,8000,9000,20000,30000,40000,50000,60000,70000,80000,90000], "labels": false, "ticks": true, "tickSize": -6, "tickColor": "#333333", "title": null}},
        "y": {"datum": 2.276, "type": "quantitative", "scale": {"type": "linear", "domain": [0, 2.5], "nice": false, "zero": false}, "axis": null}
      }
    }
  ]
},
{
  "width": 446, "height": 355,
  "resolve": {"scale": {"shape": "independent", "color": "independent"}, "axis": {"x": "independent", "y": "independent"}},
  "layer": [
    {
      "data": {"name": "gB"},
      "transform": [{"lookup": "g", "from": {"data": {"name": "groups"}, "key": "g", "fields": ["group"]}}],
      "mark": {"type": "point", "filled": true, "size": 64, "strokeWidth": 0, "opacity": 1},
      "encoding": {
        "x": {"field": "x", "type": "quantitative", "scale": {"type": "log", "domain": [0.1, 100000], "nice": false},
              "axis": {"orient": "bottom", "values": [0.1,1,10,100,1000,10000,100000], "labelExpr": "datum.value >= 10000 ? '10' + ['','','','','⁴','⁵','⁶'][round(log(datum.value)/LN10)] : format(datum.value, '')", "grid": true, "gridColor": "#bbbbbb", "labelPadding": 15, "title": "Th (ppm)", "titleX": 439, "titleY": -21, "titleAlign": "right", "titleBaseline": "middle", "titleAngle": 0}},
        "y": {"field": "y", "type": "quantitative", "scale": {"type": "log", "domain": [1, 1000000], "nice": false},
              "axis": {"orient": "left", "values": [1,10,100,1000,10000,100000,1000000], "labelExpr": "datum.value >= 10000 ? '10' + ['','','','','⁴','⁵','⁶'][round(log(datum.value)/LN10)] : format(datum.value, '')", "grid": true, "gridColor": "#bbbbbb", "labelPadding": 16, "title": "Y (ppm)", "titleX": 28, "titleY": 57, "titleAngle": 270, "titleAlign": "center", "titleBaseline": "middle"}},
        "shape": {"field": "group", "type": "nominal", "legend": null, "scale": {"domain": ["Kimberlite","Granitoids","Lamproite","Sienite","Carbonatite","Lavrikite","Dolerite","Sienites e Ne-Sienites Pegmatites"], "range": ["M-0.6,0A0.6,0.6 0 1,0 0.6,0A0.6,0.6 0 1,0 -0.6,0Z","M-0.28,-1.4H0.28V-0.28H1.4V0.28H0.28V1.4H-0.28V0.28H-1.4V-0.28H-0.28Z","M-1.05,0A1.05,1.05 0 1,0 1.05,0A1.05,1.05 0 1,0 -1.05,0ZM-0.8,0A0.8,0.8 0 1,1 0.8,0A0.8,0.8 0 1,1 -0.8,0Z","M0,-1.15L1.3,1L-1.3,1ZM0,-0.62L-0.88,0.78L0.88,0.78Z","M-1.15,-0.85L1.15,-0.85L0,1.15Z","M-1.1,-1.1H1.1V1.1H-1.1ZM-0.85,-0.85V0.85H0.85V-0.85Z","M0,-1L0.95,-0.31L0.59,0.81L-0.59,0.81L-0.95,-0.31Z","M-1.25,-1L-1,-1.25L1.25,1L1,1.25ZM1.25,-1L-1,1.25L-1.25,1L1,-1.25Z"]}},
        "color": {"field": "group", "type": "nominal", "legend": null, "scale": {"domain": ["Kimberlite","Granitoids","Lamproite","Sienite","Carbonatite","Lavrikite","Dolerite","Sienites e Ne-Sienites Pegmatites"], "range": ["#8f8f8f","#999999","#a6a6a6","#aaaaaa","#8c8c8c","#9a9a9a","#8a8a8a","#a6a6a6"]}}
      }
    },
    {
      "data": {"name": "sB"},
      "mark": {"type": "point", "filled": true, "size": 289, "fill": "#ffec00", "stroke": "#333333", "strokeWidth": 0.9, "opacity": 1},
      "encoding": {
        "x": {"field": "x", "type": "quantitative", "scale": {"type": "log", "domain": [0.1, 100000], "nice": false},
              "axis": {"orient": "bottom", "values": [0.2,0.3,0.4,0.5,0.6,0.7,0.8,0.9,2,3,4,5,6,7,8,9,20,30,40,50,60,70,80,90,200,300,400,500,600,700,800,900,2000,3000,4000,5000,6000,7000,8000,9000,20000,30000,40000,50000,60000,70000,80000,90000], "labels": false, "ticks": true, "tickSize": -6, "tickColor": "#333333", "title": null}},
        "y": {"field": "y", "type": "quantitative", "scale": {"type": "log", "domain": [1, 1000000], "nice": false},
              "axis": {"orient": "left", "values": [2,3,4,5,6,7,8,9,20,30,40,50,60,70,80,90,200,300,400,500,600,700,800,900,2000,3000,4000,5000,6000,7000,8000,9000,20000,30000,40000,50000,60000,70000,80000,90000,200000,300000,400000,500000,600000,700000,800000,900000], "labels": false, "ticks": true, "tickSize": -5, "tickColor": "#333333", "title": null}},
        "shape": {"field": "sample", "type": "nominal", "legend": null, "scale": {"domain": ["Zir 07","Zir 09","Zir 10","Zir 19","Zir 21","Zir 22","Zir 26","Zir 34","Zir 45","Zir 50","Zir 53","Zir 61"], "range": ["M0,-1.1Q0.15,0.25 1.1,0.85Q0,0.45 -1.1,0.85Q-0.15,0.25 0,-1.1Z","M0,-1.1L0.27,-0.37L1.05,-0.34L0.44,0.14L0.65,0.89L0,0.46L-0.65,0.89L-0.44,0.14L-1.05,-0.34L-0.27,-0.37Z","M0,-1L0.42,0L0,1L-0.42,0ZM0,-0.55L-0.17,0L0,0.55L0.17,0Z","M-0.9,0A0.9,0.9 0 1,0 0.9,0A0.9,0.9 0 1,0 -0.9,0ZM-0.5,0A0.5,0.5 0 1,1 0.5,0A0.5,0.5 0 1,1 -0.5,0Z","M0,-1Q0.42,-0.42 1,0Q0.42,0.42 0,1Q-0.42,0.42 -1,0Q-0.42,-0.42 0,-1Z","M0,-0.9L1,0.8L-1,0.8Z","M0,-1.05L0.29,-0.5L0.91,-0.525L0.58,0L0.91,0.525L0.29,0.5L0,1.05L-0.29,0.5L-0.91,0.525L-0.58,0L-0.91,-0.525L-0.29,-0.5Z","M0,-0.85L0.115,-0.28L0.6,-0.6L0.28,-0.115L0.85,0L0.28,0.115L0.6,0.6L0.115,0.28L0,0.85L-0.115,0.28L-0.6,0.6L-0.28,0.115L-0.85,0L-0.28,-0.115L-0.6,-0.6L-0.115,-0.28Z","M-0.85,0A0.85,0.85 0 1,0 0.85,0A0.85,0.85 0 1,0 -0.85,0Z","M-0.8,-0.8H0.8V0.8H-0.8Z","M0,-1.1L1.1,0L0,1.1L-1.1,0Z","M-0.9,0A0.9,0.9 0 1,0 0.9,0A0.9,0.9 0 1,0 -0.9,0ZM-0.55,0A0.55,0.55 0 1,0 0.55,0A0.55,0.55 0 1,0 -0.55,0ZM-0.32,0.42L0.42,-0.32M-0.42,0.32L0.32,-0.42"]}}
      }
    },
    {
      "data": {"values": [{}]},
      "mark": {"type": "text", "text": "B", "fontSize": 50, "font": "Liberation Sans", "color": "#222222", "align": "center", "baseline": "middle"},
      "encoding": {
        "x": {"datum": 43600, "type": "quantitative", "scale": {"type": "log", "domain": [0.1, 100000], "nice": false}, "axis": null},
        "y": {"datum": 316000, "type": "quantitative", "scale": {"type": "log", "domain": [1, 1000000], "nice": false}, "axis": null}
      }
    }
  ]
},
{
  "width": 453, "height": 358,
  "resolve": {"scale": {"shape": "independent", "color": "independent"}, "axis": {"x": "independent", "y": "independent"}},
  "layer": [
    {
      "data": {"name": "gC"},
      "transform": [{"lookup": "g", "from": {"data": {"name": "groups"}, "key": "g", "fields": ["group"]}}],
      "mark": {"type": "point", "filled": true, "size": 64, "strokeWidth": 0, "opacity": 1},
      "encoding": {
        "x": {"field": "x", "type": "quantitative", "scale": {"type": "log", "domain": [1, 1000000], "nice": false},
              "axis": {"orient": "bottom", "values": [1,10,100,1000,10000,100000,1000000], "labelExpr": "datum.value >= 10000 ? '10' + ['','','','','⁴','⁵','⁶'][round(log(datum.value)/LN10)] : format(datum.value, '')", "grid": true, "gridColor": "#bbbbbb", "labelPadding": 15, "title": "REE + Y (ppm)", "titleX": 440, "titleY": -21, "titleAlign": "right", "titleBaseline": "middle", "titleAngle": 0}},
        "y": {"field": "y", "type": "quantitative", "scale": {"type": "log", "domain": [10, 100000], "nice": false},
              "axis": {"orient": "left", "values": [10,100,1000,10000,100000], "labelExpr": "datum.value >= 10000 ? '10' + ['','','','','⁴','⁵','⁶'][round(log(datum.value)/LN10)] : format(datum.value, '')", "grid": true, "gridColor": "#bbbbbb", "labelPadding": 16, "title": "P (ppm)", "titleX": 33, "titleY": 54, "titleAngle": 270, "titleAlign": "center", "titleBaseline": "middle"}},
        "shape": {"field": "group", "type": "nominal",
          "legend": {"orient": "none", "legendX": -14, "legendY": 424, "columns": 2, "title": null, "labelFontSize": 20, "labelColor": "#111111", "labelLimit": 400, "symbolSize": 100, "symbolStrokeWidth": 0, "symbolOpacity": 1, "labelOffset": 17, "columnPadding": 24, "rowPadding": 7, "padding": 8, "strokeColor": "#666666", "labelExpr": "datum.label == 'Sienites e Ne-Sienites Pegmatites' ? ['Sienites e Ne-', 'Sienites Pegmatites'] : datum.label"},
          "scale": {"domain": ["Kimberlite","Lamproite","Carbonatite","Dolerite","Granitoids","Sienite","Lavrikite","Sienites e Ne-Sienites Pegmatites"], "range": ["M-0.6,0A0.6,0.6 0 1,0 0.6,0A0.6,0.6 0 1,0 -0.6,0Z","M-1.05,0A1.05,1.05 0 1,0 1.05,0A1.05,1.05 0 1,0 -1.05,0ZM-0.8,0A0.8,0.8 0 1,1 0.8,0A0.8,0.8 0 1,1 -0.8,0Z","M-1.15,-0.85L1.15,-0.85L0,1.15Z","M0,-1L0.95,-0.31L0.59,0.81L-0.59,0.81L-0.95,-0.31Z","M-0.3,-1.8H0.3V-0.3H1.8V0.3H0.3V1.8H-0.3V0.3H-1.8V-0.3H-0.3Z","M0,-1.15L1.3,1L-1.3,1ZM0,-0.62L-0.88,0.78L0.88,0.78Z","M-1.1,-1.1H1.1V1.1H-1.1ZM-0.85,-0.85V0.85H0.85V-0.85Z","M-1.9,-1.65L-1.65,-1.9L1.9,1.65L1.65,1.9ZM1.9,-1.65L-1.65,1.9L-1.9,1.65L1.65,-1.9Z"]}},
        "color": {"field": "group", "type": "nominal",
          "legend": {"orient": "none", "legendX": -14, "legendY": 424, "columns": 2, "title": null, "labelFontSize": 20, "labelColor": "#111111", "labelLimit": 400, "symbolSize": 100, "symbolStrokeWidth": 0, "symbolOpacity": 1, "labelOffset": 17, "columnPadding": 24, "rowPadding": 7, "padding": 8, "strokeColor": "#666666", "labelExpr": "datum.label == 'Sienites e Ne-Sienites Pegmatites' ? ['Sienites e Ne-', 'Sienites Pegmatites'] : datum.label"},
          "scale": {"domain": ["Kimberlite","Lamproite","Carbonatite","Dolerite","Granitoids","Sienite","Lavrikite","Sienites e Ne-Sienites Pegmatites"], "range": ["#8a8a8a","#a3a3a3","#8c8c8c","#999999","#9a9a9a","#aaaaaa","#999999","#a8a8a8"]}}
      }
    },
    {
      "data": {"name": "sC"},
      "mark": {"type": "point", "filled": true, "size": 289, "fill": "#ffec00", "stroke": "#333333", "strokeWidth": 0.9, "opacity": 1},
      "encoding": {
        "x": {"field": "x", "type": "quantitative", "scale": {"type": "log", "domain": [1, 1000000], "nice": false},
              "axis": {"orient": "bottom", "values": [2,3,4,5,6,7,8,9,20,30,40,50,60,70,80,90,200,300,400,500,600,700,800,900,2000,3000,4000,5000,6000,7000,8000,9000,20000,30000,40000,50000,60000,70000,80000,90000,200000,300000,400000,500000,600000,700000,800000,900000], "labels": false, "ticks": true, "tickSize": -6, "tickColor": "#333333", "title": null}},
        "y": {"field": "y", "type": "quantitative", "scale": {"type": "log", "domain": [10, 100000], "nice": false},
              "axis": {"orient": "left", "values": [20,30,40,50,60,70,80,90,200,300,400,500,600,700,800,900,2000,3000,4000,5000,6000,7000,8000,9000,20000,30000,40000,50000,60000,70000,80000,90000], "labels": false, "ticks": true, "tickSize": -5, "tickColor": "#333333", "title": null}},
        "shape": {"field": "sample", "type": "nominal", "legend": null, "scale": {"domain": ["Zir 07","Zir 09","Zir 10","Zir 19","Zir 21","Zir 22","Zir 26","Zir 34","Zir 45","Zir 50","Zir 53","Zir 61"], "range": ["M0,-1.1Q0.15,0.25 1.1,0.85Q0,0.45 -1.1,0.85Q-0.15,0.25 0,-1.1Z","M0,-1.1L0.27,-0.37L1.05,-0.34L0.44,0.14L0.65,0.89L0,0.46L-0.65,0.89L-0.44,0.14L-1.05,-0.34L-0.27,-0.37Z","M0,-1L0.42,0L0,1L-0.42,0ZM0,-0.55L-0.17,0L0,0.55L0.17,0Z","M-0.9,0A0.9,0.9 0 1,0 0.9,0A0.9,0.9 0 1,0 -0.9,0ZM-0.5,0A0.5,0.5 0 1,1 0.5,0A0.5,0.5 0 1,1 -0.5,0Z","M0,-1Q0.42,-0.42 1,0Q0.42,0.42 0,1Q-0.42,0.42 -1,0Q-0.42,-0.42 0,-1Z","M0,-0.9L1,0.8L-1,0.8Z","M0,-1.05L0.29,-0.5L0.91,-0.525L0.58,0L0.91,0.525L0.29,0.5L0,1.05L-0.29,0.5L-0.91,0.525L-0.58,0L-0.91,-0.525L-0.29,-0.5Z","M0,-0.85L0.115,-0.28L0.6,-0.6L0.28,-0.115L0.85,0L0.28,0.115L0.6,0.6L0.115,0.28L0,0.85L-0.115,0.28L-0.6,0.6L-0.28,0.115L-0.85,0L-0.28,-0.115L-0.6,-0.6L-0.115,-0.28Z","M-0.85,0A0.85,0.85 0 1,0 0.85,0A0.85,0.85 0 1,0 -0.85,0Z","M-0.8,-0.8H0.8V0.8H-0.8Z","M0,-1.1L1.1,0L0,1.1L-1.1,0Z","M-0.9,0A0.9,0.9 0 1,0 0.9,0A0.9,0.9 0 1,0 -0.9,0ZM-0.55,0A0.55,0.55 0 1,0 0.55,0A0.55,0.55 0 1,0 -0.55,0ZM-0.32,0.42L0.42,-0.32M-0.42,0.32L0.32,-0.42"]}}
      }
    },
    {
      "data": {"values": [{}]},
      "mark": {"type": "text", "text": "C", "fontSize": 50, "font": "Liberation Sans", "color": "#222222", "align": "center", "baseline": "middle"},
      "encoding": {
        "x": {"datum": 402000, "type": "quantitative", "scale": {"type": "log", "domain": [1, 1000000], "nice": false}, "axis": null},
        "y": {"datum": 45200, "type": "quantitative", "scale": {"type": "log", "domain": [10, 100000], "nice": false}, "axis": null}
      }
    }
  ]
},
{
  "width": 460, "height": 369,
  "resolve": {"scale": {"shape": "independent", "color": "independent"}, "axis": {"x": "independent", "y": "independent"}},
  "layer": [
    {
      "data": {"name": "gD"},
      "transform": [{"lookup": "g", "from": {"data": {"name": "groups"}, "key": "g", "fields": ["group"]}}],
      "mark": {"type": "point", "filled": true, "size": 64, "strokeWidth": 0, "opacity": 1},
      "encoding": {
        "x": {"field": "x", "type": "quantitative", "scale": {"type": "log", "domain": [0.1, 100], "nice": false},
              "axis": {"orient": "bottom", "values": [0.1,1,10,100], "labelExpr": "datum.value < 1 ? '0,1' : format(datum.value, '')", "grid": true, "gridColor": "#c4c4c4", "labelPadding": 15, "title": "Nb/Ta", "titleX": 448, "titleY": -26, "titleAlign": "right", "titleBaseline": "middle", "titleAngle": 0}},
        "y": {"field": "y", "type": "quantitative", "scale": {"type": "log", "domain": [1, 1000000], "nice": false},
              "axis": {"orient": "left", "values": [1,10,100,1000,10000,100000,1000000], "labelExpr": "datum.value >= 10000 ? '10' + ['','','','','⁴','⁵','⁶'][round(log(datum.value)/LN10)] : format(datum.value, '')", "grid": true, "gridColor": "#c4c4c4", "labelPadding": 16, "title": "Y (ppm)", "titleX": 27, "titleY": 59, "titleAngle": 270, "titleAlign": "center", "titleBaseline": "middle"}},
        "shape": {"field": "group", "type": "nominal", "legend": null, "scale": {"domain": ["Kimberlite","Granitoids","Lamproite","Sienite","Carbonatite","Lavrikite","Dolerite","Sienites e Ne-Sienites Pegmatites"], "range": ["M-0.6,0A0.6,0.6 0 1,0 0.6,0A0.6,0.6 0 1,0 -0.6,0Z","M-0.28,-1.4H0.28V-0.28H1.4V0.28H0.28V1.4H-0.28V0.28H-1.4V-0.28H-0.28Z","M-1.05,0A1.05,1.05 0 1,0 1.05,0A1.05,1.05 0 1,0 -1.05,0ZM-0.8,0A0.8,0.8 0 1,1 0.8,0A0.8,0.8 0 1,1 -0.8,0Z","M0,-1.15L1.3,1L-1.3,1ZM0,-0.62L-0.88,0.78L0.88,0.78Z","M-1.15,-0.85L1.15,-0.85L0,1.15Z","M-1.1,-1.1H1.1V1.1H-1.1ZM-0.85,-0.85V0.85H0.85V-0.85Z","M0,-1L0.95,-0.31L0.59,0.81L-0.59,0.81L-0.95,-0.31Z","M-1.25,-1L-1,-1.25L1.25,1L1,1.25ZM1.25,-1L-1,1.25L-1.25,1L1,-1.25Z"]}},
        "color": {"field": "group", "type": "nominal", "legend": null, "scale": {"domain": ["Kimberlite","Granitoids","Lamproite","Sienite","Carbonatite","Lavrikite","Dolerite","Sienites e Ne-Sienites Pegmatites"], "range": ["#8f8f8f","#999999","#a6a6a6","#a6a6a6","#8c8c8c","#9a9a9a","#8c8c8c","#a3a3a3"]}}
      }
    },
    {
      "data": {"name": "sD"},
      "mark": {"type": "point", "filled": true, "size": 289, "fill": "#ffec00", "stroke": "#333333", "strokeWidth": 0.9, "opacity": 1},
      "encoding": {
        "x": {"field": "x", "type": "quantitative", "scale": {"type": "log", "domain": [0.1, 100], "nice": false},
              "axis": {"orient": "bottom", "values": [0.2,0.3,0.4,0.5,0.6,0.7,0.8,0.9,2,3,4,5,6,7,8,9,20,30,40,50,60,70,80,90], "labels": false, "ticks": true, "tickSize": -6, "tickColor": "#333333", "title": null}},
        "y": {"field": "y", "type": "quantitative", "scale": {"type": "log", "domain": [1, 1000000], "nice": false},
              "axis": {"orient": "left", "values": [2,3,4,5,6,7,8,9,20,30,40,50,60,70,80,90,200,300,400,500,600,700,800,900,2000,3000,4000,5000,6000,7000,8000,9000,20000,30000,40000,50000,60000,70000,80000,90000,200000,300000,400000,500000,600000,700000,800000,900000], "labels": false, "ticks": true, "tickSize": -5, "tickColor": "#333333", "title": null}},
        "shape": {"field": "sample", "type": "nominal",
          "legend": {"orient": "none", "legendX": 0, "legendY": 429, "columns": 4, "title": null, "labelFontSize": 20, "labelColor": "#111111", "symbolSize": 225, "symbolStrokeWidth": 0.9, "symbolOpacity": 1, "symbolOffset": 66, "labelOffset": -81, "columnPadding": 30, "rowPadding": 3, "padding": 11, "strokeColor": "#666666",
            "encode": {"symbols": {"stroke": {"value": "#333333"}, "strokeWidth": {"value": 0.9}, "fill": {"value": "#ffec00"}}}},
          "scale": {"domain": ["Zir 07","Zir 09","Zir 10","Zir 19","Zir 21","Zir 22","Zir 26","Zir 34","Zir 45","Zir 50","Zir 53","Zir 61"], "range": ["M0,-1.1Q0.15,0.25 1.1,0.85Q0,0.45 -1.1,0.85Q-0.15,0.25 0,-1.1Z","M0,-1.1L0.27,-0.37L1.05,-0.34L0.44,0.14L0.65,0.89L0,0.46L-0.65,0.89L-0.44,0.14L-1.05,-0.34L-0.27,-0.37Z","M0,-1L0.42,0L0,1L-0.42,0ZM0,-0.55L-0.17,0L0,0.55L0.17,0Z","M-0.9,0A0.9,0.9 0 1,0 0.9,0A0.9,0.9 0 1,0 -0.9,0ZM-0.5,0A0.5,0.5 0 1,1 0.5,0A0.5,0.5 0 1,1 -0.5,0Z","M0,-1Q0.42,-0.42 1,0Q0.42,0.42 0,1Q-0.42,0.42 -1,0Q-0.42,-0.42 0,-1Z","M0,-0.9L1,0.8L-1,0.8Z","M0,-1.05L0.29,-0.5L0.91,-0.525L0.58,0L0.91,0.525L0.29,0.5L0,1.05L-0.29,0.5L-0.91,0.525L-0.58,0L-0.91,-0.525L-0.29,-0.5Z","M0,-0.85L0.115,-0.28L0.6,-0.6L0.28,-0.115L0.85,0L0.28,0.115L0.6,0.6L0.115,0.28L0,0.85L-0.115,0.28L-0.6,0.6L-0.28,0.115L-0.85,0L-0.28,-0.115L-0.6,-0.6L-0.115,-0.28Z","M-0.85,0A0.85,0.85 0 1,0 0.85,0A0.85,0.85 0 1,0 -0.85,0Z","M-0.8,-0.8H0.8V0.8H-0.8Z","M0,-1.1L1.1,0L0,1.1L-1.1,0Z","M-0.9,0A0.9,0.9 0 1,0 0.9,0A0.9,0.9 0 1,0 -0.9,0ZM-0.55,0A0.55,0.55 0 1,0 0.55,0A0.55,0.55 0 1,0 -0.55,0ZM-0.32,0.42L0.42,-0.32M-0.42,0.32L0.32,-0.42"]}}
      }
    },
    {
      "data": {"values": [{}]},
      "mark": {"type": "text", "text": "D", "fontSize": 50, "font": "Liberation Sans", "color": "#222222", "align": "center", "baseline": "middle"},
      "encoding": {
        "x": {"datum": 70.8, "type": "quantitative", "scale": {"type": "log", "domain": [0.1, 100], "nice": false},
              "axis": {"orient": "top", "values": [0.2,0.3,0.4,0.5,0.6,0.7,0.8,0.9,2,3,4,5,6,7,8,9,20,30,40,50,60,70,80,90], "labels": false, "ticks": true, "tickSize": -6, "tickColor": "#333333", "title": null}},
        "y": {"datum": 316000, "type": "quantitative", "scale": {"type": "log", "domain": [1, 1000000], "nice": false}, "axis": null}
      }
    }
  ]
}
]
}
